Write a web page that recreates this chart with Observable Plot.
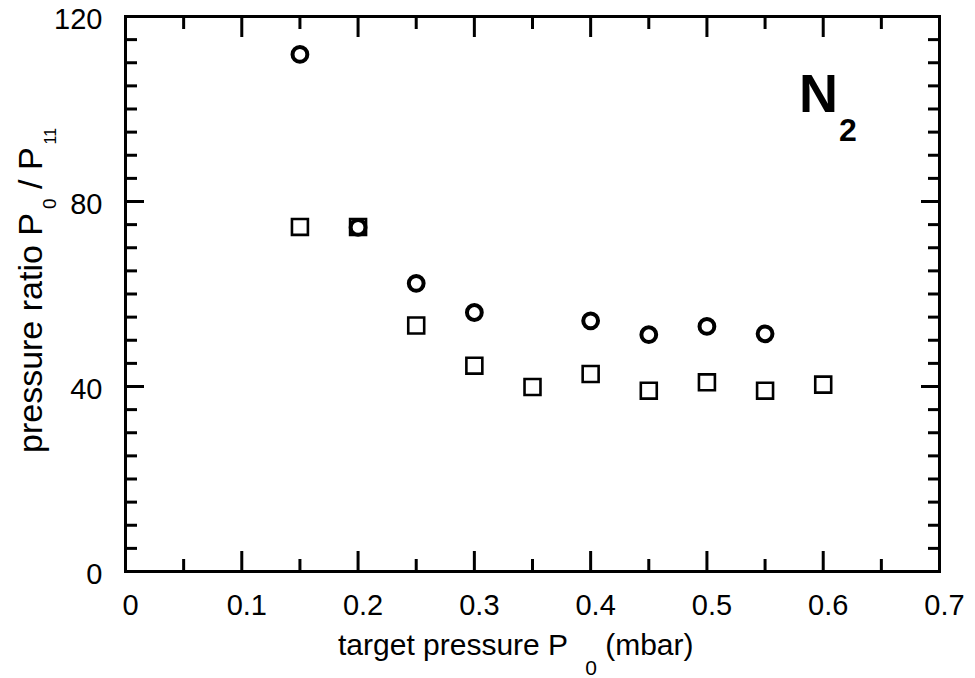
<!DOCTYPE html>
<html>
<head>
<meta charset="utf-8">
<script src="https://cdn.jsdelivr.net/npm/d3@7"></script>
<script src="https://cdn.jsdelivr.net/npm/@observablehq/plot@0.6"></script>
<style>
  body { margin: 0; background: #fff; }
  #chart svg { font-family: "Liberation Sans", Arial, Helvetica, sans-serif; }
</style>
</head>
<body>
<div id="chart"></div>
<script>
// Series 1 (open circles)
const circleX = [0.15, 0.20, 0.25, 0.30, 0.40, 0.45, 0.50, 0.55];
const circleY = [111.8, 74.4, 62.3, 56.0, 54.2, 51.2, 53.0, 51.4];
// Series 2 (open squares)
const squareX = [0.15, 0.20, 0.25, 0.30, 0.35, 0.40, 0.45, 0.50, 0.55, 0.60];
const squareY = [74.5, 74.5, 53.2, 44.5, 39.9, 42.7, 39.1, 40.9, 39.1, 40.4];
// Axes
const xTicks = [0, 0.1, 0.2, 0.3, 0.4, 0.5, 0.6, 0.7];
const xMinorTicks = [0.05, 0.15, 0.25, 0.35, 0.45, 0.55, 0.65];
const yTicks = [0, 40, 80, 120];
const yMinorTicks = [5, 10, 15, 20, 25, 30, 35, 45, 50, 55, 60, 65, 70, 75, 85, 90, 95, 100, 105, 110, 115];
const xTickLabels = ["0", "0.1", "0.2", "0.3", "0.4", "0.5", "0.6", "0.7"];
const xLabel = ["target pressure P", "0", " (mbar)"];
const yLabel = ["pressure ratio P", "0", " / P", "11"];
const gasLabel = ["N", "2"];

const circles = circleX.map((x, i) => ({x, y: circleY[i]}));
const squares = squareX.map((x, i) => ({x, y: squareY[i]}));

const tickStyle = {stroke: "#000", strokeWidth: 3, fill: "none", label: null};
const textStyle = {tickSize: 0, fill: "#000", fontSize: 29, label: null};

const plot = Plot.plot({
  width: 975,
  height: 678,
  marginLeft: 125,
  marginRight: 36,
  marginTop: 16,
  marginBottom: 107,
  style: {background: "#fff", color: "#000", fontSize: "29px", fontFamily: "Liberation Sans, Arial, sans-serif"},
  x: {domain: [0, 0.7]},
  y: {domain: [0, 120]},
  marks: [
    // major & minor inward ticks on all four sides
    Plot.axisX(xTicks, {anchor: "bottom", tickSize: -20, ...tickStyle}),
    Plot.axisX(xMinorTicks, {anchor: "bottom", tickSize: -12, ...tickStyle}),
    Plot.axisX(xTicks, {anchor: "top", tickSize: -20, ...tickStyle}),
    Plot.axisX(xMinorTicks, {anchor: "top", tickSize: -12, ...tickStyle}),
    Plot.axisY(yTicks, {anchor: "left", tickSize: -19, ...tickStyle}),
    Plot.axisY(yMinorTicks, {anchor: "left", tickSize: -12, ...tickStyle}),
    Plot.axisY(yTicks, {anchor: "right", tickSize: -19, ...tickStyle}),
    Plot.axisY(yMinorTicks, {anchor: "right", tickSize: -12, ...tickStyle}),
    // tick labels
    Plot.axisX(xTicks, {anchor: "bottom", tickPadding: 23, dx: 5, tickFormat: (d, i) => xTickLabels[i], ...textStyle}),
    Plot.axisY(yTicks, {anchor: "left", tickPadding: 23, dy: 3, tickFormat: d => String(d), ...textStyle}),
    Plot.frame({stroke: "#000", strokeWidth: 3}),
    Plot.dot(squares, {x: "x", y: "y", symbol: "square", r: 9, stroke: "#000", strokeWidth: 2.6, fill: "none"}),
    Plot.dot(circles, {x: "x", y: "y", symbol: "circle", r: 7.4, stroke: "#000", strokeWidth: 4, fill: "none"})
  ]
});

document.getElementById("chart").appendChild(plot);

const svg = d3.select(plot);
const font = "Liberation Sans, Arial, sans-serif";

// x-axis title with subscript
const xt = svg.append("text")
  .attr("x", 338).attr("y", 655).attr("text-anchor", "start")
  .attr("font-family", font).attr("font-size", 30).attr("fill", "#000");
xt.append("tspan").text(xLabel[0]);
xt.append("tspan").attr("font-size", 21).attr("dx", 17).attr("dy", 20).text(xLabel[1]);
xt.append("tspan").attr("dy", -20).text(xLabel[2]);

// y-axis title, rotated, with subscripts
const yt = svg.append("text")
  .attr("transform", "translate(42,453) rotate(-90)").attr("text-anchor", "start")
  .attr("font-family", font).attr("font-size", 34).attr("fill", "#000");
yt.append("tspan").text(yLabel[0]);
yt.append("tspan").attr("font-size", 19).attr("dx", 4).attr("dy", 14).text(yLabel[1]);
yt.append("tspan").attr("dy", -14).text(yLabel[2]);
yt.append("tspan").attr("font-size", 16).attr("dx", 3).attr("dy", 14).text(yLabel[3]);

// gas label N2
const gt = svg.append("text")
  .attr("x", 799).attr("y", 112).attr("text-anchor", "start")
  .attr("font-family", font).attr("font-weight", "bold").attr("font-size", 54).attr("fill", "#000");
gt.append("tspan").text(gasLabel[0]);
gt.append("tspan").attr("font-size", 32).attr("dx", 1).attr("dy", 29).text(gasLabel[1]);
</script>
</body>
</html>
